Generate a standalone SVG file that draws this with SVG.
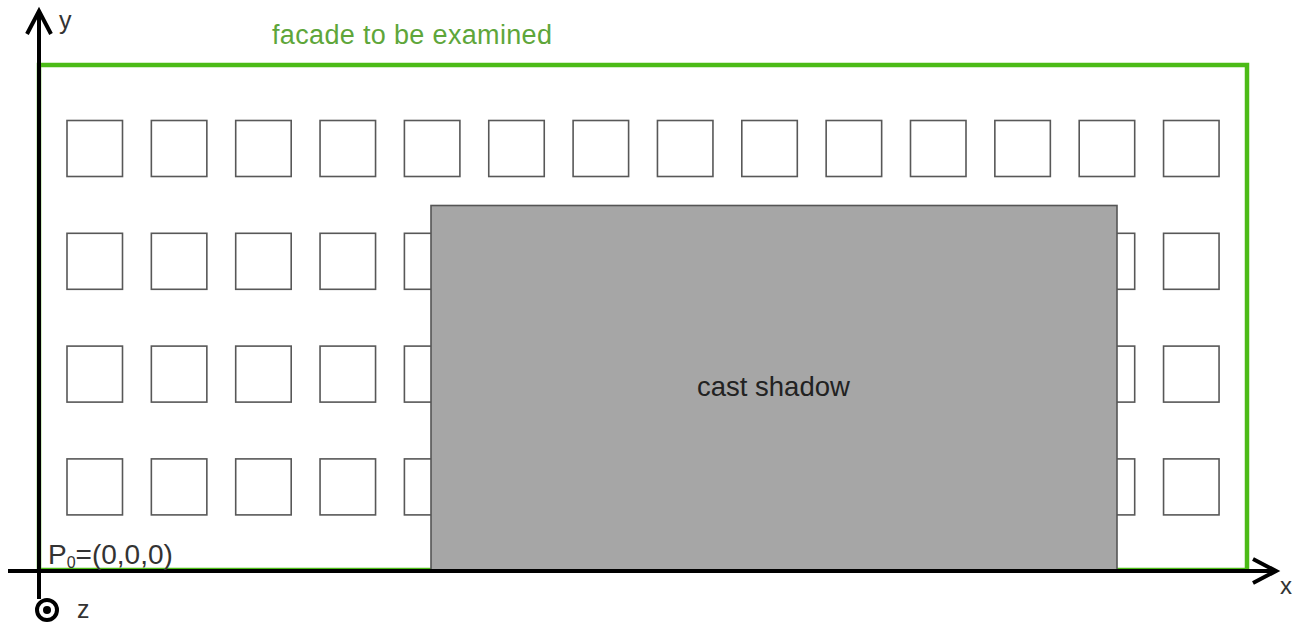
<svg xmlns="http://www.w3.org/2000/svg" width="1299" height="630" viewBox="0 0 1299 630">
  <style>
    .win { fill: none; stroke: #585858; stroke-width: 1.6; }
    .axis { stroke: #000; stroke-width: 4; fill: none; }
    .lbl { font-family: "Liberation Sans", Arial, sans-serif; fill: #333; }
  </style>
  <defs>
    <marker id="chev" markerUnits="userSpaceOnUse" markerWidth="40" markerHeight="40" viewBox="-30 -20 40 40" refX="0" refY="0" orient="auto" overflow="visible">
      <path d="M-23,-12 L0,0 L-23,12" fill="none" stroke="#000" stroke-width="4"/>
    </marker>
    <rect id="w" width="55.5" height="56"/>
  </defs>
  <rect width="1299" height="630" fill="#fff"/>

  <g id="facade">
    <rect x="39" y="65" width="1208" height="505" fill="none" stroke="#4cbb17" stroke-width="4.5"/>
    <text class="lbl" x="272" y="43.5" font-size="27" textLength="280" style="fill:#5ea63a">facade to be examined</text>
  </g>

  <g id="windows">
    <g id="row1" transform="translate(0,120.5)">
      <use href="#w" class="win" x="67"/><use href="#w" class="win" x="151.35"/><use href="#w" class="win" x="235.7"/><use href="#w" class="win" x="320.05"/><use href="#w" class="win" x="404.4"/><use href="#w" class="win" x="488.75"/><use href="#w" class="win" x="573.1"/><use href="#w" class="win" x="657.45"/><use href="#w" class="win" x="741.8"/><use href="#w" class="win" x="826.15"/><use href="#w" class="win" x="910.5"/><use href="#w" class="win" x="994.85"/><use href="#w" class="win" x="1079.2"/><use href="#w" class="win" x="1163.55"/>
    </g>
    <use href="#row1" y="112.8"/>
    <use href="#row1" y="225.6"/>
    <use href="#row1" y="338.4"/>
  </g>

  <g id="shadow">
    <rect x="431" y="205.5" width="686" height="366" fill="#a6a6a6" stroke="#555" stroke-width="1.6"/>
    <text class="lbl" x="697" y="396" font-size="27.5" style="fill:#222">cast shadow</text>
  </g>

  <g id="connectors">
    <line class="axis" x1="8" y1="571" x2="1276" y2="571" marker-end="url(#chev)"/>
    <line class="axis" x1="39" y1="599" x2="39" y2="11" marker-end="url(#chev)"/>
  </g>

  <g id="axis-labels">
    <text class="lbl" x="59" y="29" font-size="25">y</text>
    <text class="lbl" x="1280" y="594" font-size="24">x</text>
    <circle cx="47" cy="610" r="10" fill="none" stroke="#000" stroke-width="4"/>
    <circle cx="47" cy="610" r="4" fill="#000"/>
    <text class="lbl" x="77" y="618" font-size="25">z</text>
    <text class="lbl" x="48" y="564" font-size="28">P<tspan font-size="16" dy="4">0</tspan><tspan dy="-4">=(0,0,0)</tspan></text>
  </g>
</svg>
